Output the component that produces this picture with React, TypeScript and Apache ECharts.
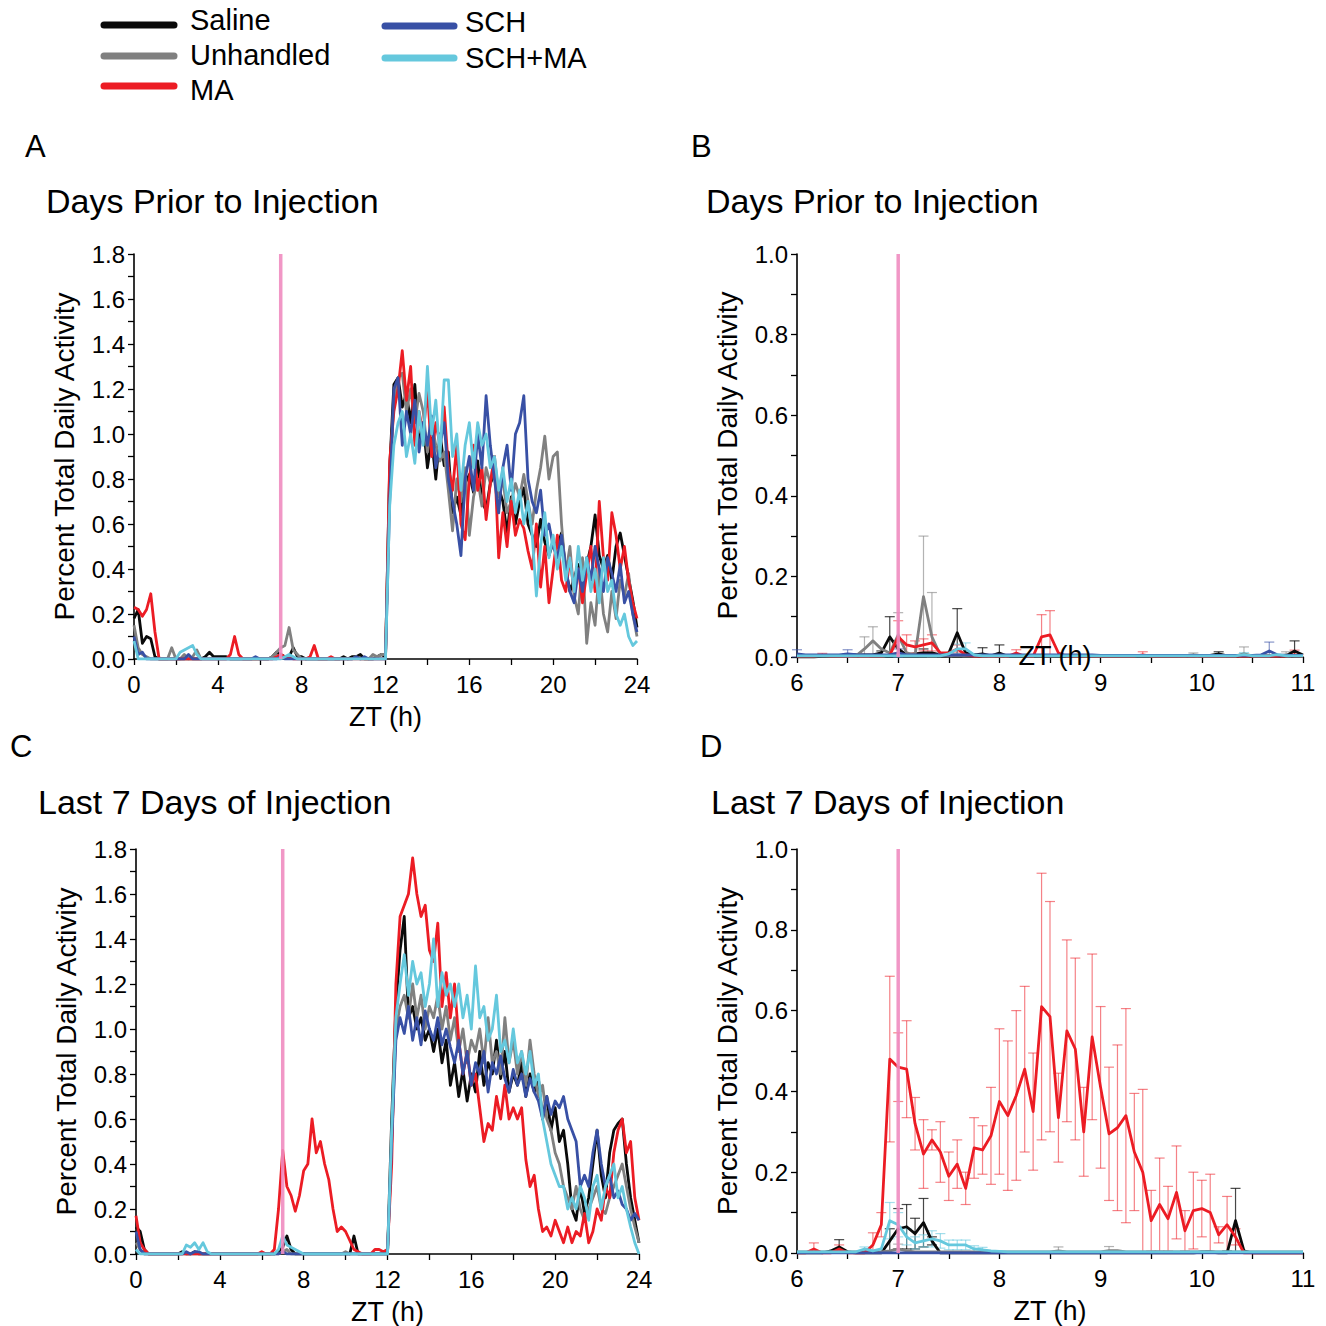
import { useEffect, useRef } from "react";
import * as echarts from "echarts";

// ---------- categories / labels ----------
const groupNames = ["Saline", "Unhandled", "MA", "SCH", "SCH+MA"];
const groupColors = ["#0a0a0a", "#808080", "#ec1c24", "#3850a5", "#65c8dd"];
const errColors = ["rgba(10,10,10,0.75)", "rgba(128,128,128,0.6)", "rgba(236,28,36,0.55)", "rgba(56,80,165,0.6)", "rgba(101,200,221,0.6)"];
const pinkColor = "#f08cc0";
const injectionZT = 7;
const panelTitles = ["Days Prior to Injection", "Days Prior to Injection", "Last 7 Days of Injection", "Last 7 Days of Injection"];
const panelLetters = ["A", "B", "C", "D"];

// time grids (ZT hours): full day in 0.2 h bins, zoom window 6-11 h in 5-min bins
const hoursFull = Array.from({ length: 121 }, (_, i) => Math.round(i * 2) / 10);
const hoursZoom = Array.from({ length: 61 }, (_, k) => 6 + k / 12);

// ---------- Panel A: days prior to injection (ZT 0.0 - 12.0 and 12.2 - 24.0) ----------
const salineA_light = [0.18,0.22,0.07,0.10,0.09,0.01,0,0,0,0, 0,0,0,0,0,0,0,0.01,0.03,0.01, 0.01,0.01,0.01,0,0,0,0,0,0,0, 0,0,0,0.01,0.03,0.02,0.01,0.01,0.05,0.01, 0.01,0,0,0,0,0,0,0,0,0, 0.01,0,0.01,0.01,0.02,0,0,0,0.01,0.02, 0.01];
const unhandledA_light = [0.15,0.05,0.02,0.01,0,0,0,0,0,0.05, 0,0,0.02,0,0.01,0.04,0,0,0,0, 0,0,0,0,0,0,0,0,0,0, 0,0,0,0.01,0.03,0.05,0.06,0.14,0.04,0.02, 0,0,0,0,0,0,0,0,0,0, 0,0,0,0.01,0,0,0,0.02,0.01,0.02, 0.02];
const maA_light = [0.23,0.22,0.19,0.22,0.29,0.12,0,0,0,0, 0,0,0,0,0,0,0,0,0,0, 0,0,0,0.02,0.10,0.02,0,0,0,0, 0,0,0,0,0.01,0.02,0.01,0.01,0,0, 0,0,0.01,0.06,0,0,0,0.01,0,0, 0,0,0,0,0,0,0,0,0,0, 0];
const schA_light = [0.10,0.02,0.03,0,0,0,0,0,0,0, 0,0,0,0.02,0,0,0,0,0,0, 0,0,0,0,0,0,0,0,0,0.01, 0,0,0,0,0,0.01,0,0,0,0, 0,0,0,0,0,0,0,0,0,0, 0,0,0,0.01,0,0.01,0,0,0,0, 0];
const schmaA_light = [0.08,0,0,0,0,0,0,0,0,0, 0,0.03,0.04,0.05,0.06,0.02,0,0,0,0, 0,0,0,0,0,0,0,0,0,0, 0,0,0,0,0,0,0.01,0.02,0.01,0, 0,0,0,0,0,0,0,0,0,0, 0,0,0,0,0,0,0,0,0,0, 0];

const salineA_dark = [0.85,1.22,1.25,1.12,1.18, 1.05,1.22,0.95,1.05,0.85, 0.98,0.8,1.0,0.86,0.92, 0.65,0.72,0.64,0.78,0.82, 0.74,0.88,0.7,0.66,0.78, 0.82,0.76,0.7,0.56,0.72, 0.6,0.7,0.76,0.6,0.55, 0.5,0.62,0.52,0.46,0.52, 0.5,0.56,0.4,0.3,0.36, 0.42,0.3,0.42,0.5,0.64, 0.46,0.4,0.46,0.35,0.5, 0.56,0.46,0.36,0.26,0.14];
const unhandledA_dark = [0.8,1.15,1.25,1.27,1.1, 1.2,1.05,1.18,1.1,0.92, 1.05,0.95,0.88,0.92,0.75, 0.57,0.8,0.7,0.85,0.55, 0.72,0.8,0.68,0.85,0.78, 0.9,0.72,0.8,0.65,0.7, 0.78,0.72,0.82,0.7,0.6, 0.75,0.85,0.99,0.8,0.9, 0.92,0.6,0.38,0.5,0.28, 0.2,0.45,0.07,0.25,0.15, 0.4,0.2,0.12,0.3,0.18, 0.35,0.28,0.38,0.2,0.1];
const maA_dark = [0.88,1.1,1.2,1.37,1.15, 1.3,0.95,1.1,1.0,1.2, 0.9,1.05,0.95,1.12,0.85, 0.75,0.95,0.6,0.53,0.8, 0.95,0.75,0.85,0.62,0.78, 0.9,0.45,0.65,0.5,0.7, 0.55,0.62,0.58,0.48,0.4, 0.6,0.32,0.5,0.25,0.4, 0.55,0.35,0.3,0.45,0.3, 0.4,0.25,0.38,0.5,0.3, 0.7,0.45,0.35,0.65,0.55, 0.4,0.5,0.35,0.25,0.18];
const schA_dark = [0.7,1.2,1.25,0.95,1.1, 1.0,1.15,0.92,1.05,0.95, 1.08,0.85,0.95,1.05,0.8, 0.7,0.6,0.46,0.8,0.9, 0.75,1.0,0.85,1.17,0.95, 0.8,0.65,0.85,0.95,0.75, 1.0,1.05,1.17,0.8,0.7, 0.65,0.75,0.55,0.6,0.5, 0.45,0.55,0.4,0.3,0.25, 0.4,0.3,0.45,0.35,0.5, 0.4,0.3,0.45,0.38,0.3, 0.42,0.25,0.3,0.2,0.12];
const schmaA_dark = [0.68,0.95,1.05,1.1,0.9, 1.0,0.87,1.1,0.95,1.3, 1.0,1.15,0.9,1.24,1.24, 0.9,1.0,0.75,0.95,1.05, 0.85,1.05,0.95,1.0,0.85, 0.9,0.75,0.85,0.7,0.8, 0.65,0.75,0.6,0.7,0.55, 0.28,0.5,0.65,0.45,0.55, 0.4,0.5,0.35,0.45,0.3, 0.5,0.35,0.45,0.3,0.4, 0.25,0.45,0.3,0.35,0.2, 0.15,0.2,0.1,0.06,0.08];

// ---------- Panel C: last 7 days of injection ----------
const salineC_light = [0.12,0.10,0.02,0,0,0,0,0,0,0, 0,0.01,0,0,0.01,0,0,0,0,0, 0,0,0,0,0,0,0,0,0,0, 0,0,0,0,0.01,0.03,0.08,0.02,0,0, 0,0,0,0,0,0,0,0,0,0, 0,0,0.08,0,0,0,0,0,0,0, 0];
const unhandledC_light = [0.05,0.02,0,0,0,0,0,0,0,0, 0,0,0,0,0,0,0,0,0,0, 0,0,0,0,0,0,0,0,0,0, 0,0,0,0,0,0.01,0.02,0,0,0, 0,0,0,0,0,0,0,0,0,0, 0.01,0,0,0,0,0,0,0,0,0, 0];
const maC_light = [0.17,0.05,0.02,0,0,0,0,0,0,0, 0,0,0,0,0,0,0,0,0,0, 0,0,0,0,0,0,0,0,0,0, 0.01,0,0,0.02,0.20,0.46,0.30,0.26,0.19,0.26, 0.37,0.40,0.60,0.45,0.50,0.40,0.33,0.20,0.10,0.12, 0.10,0.06,0.02,0.01,0,0,0,0.02,0.02,0.01, 0.02];
const schC_light = [0.10,0.02,0,0,0,0,0,0,0,0, 0,0,0.01,0,0.01,0.01,0,0,0,0, 0,0,0,0,0,0,0,0,0,0, 0,0,0,0,0,0.01,0,0,0,0, 0,0,0,0,0,0,0,0,0,0, 0,0,0,0,0,0,0,0,0,0, 0];
const schmaC_light = [0.02,0,0,0,0,0,0,0,0,0, 0,0,0.04,0.03,0.05,0.02,0.05,0.01,0,0, 0,0,0,0,0,0,0,0,0,0, 0,0,0,0,0.02,0.08,0.04,0.03,0.02,0.01, 0,0,0,0,0,0,0,0,0,0, 0,0,0,0,0,0,0,0,0,0, 0];

const salineC_dark = [0.6,1.1,1.35,1.5,1.05, 1.1,1.0,1.05,0.95,1.0, 0.9,1.0,0.85,0.95,0.75, 0.85,0.7,0.82,0.68,0.8, 0.72,0.9,0.75,0.85,0.8, 0.95,0.78,0.9,0.72,0.8, 0.75,0.85,0.7,0.8,0.72, 0.78,0.6,0.7,0.55,0.65, 0.5,0.55,0.4,0.2,0.15, 0.3,0.18,0.25,0.4,0.55, 0.35,0.25,0.45,0.55,0.58, 0.6,0.4,0.25,0.15,0.05];
const unhandledC_dark = [0.5,1.0,1.1,1.15,1.05, 1.2,1.05,1.15,1.0,1.1, 1.05,1.15,1.0,1.1,0.95, 1.05,0.9,1.0,0.85,0.95, 0.9,1.0,0.85,1.05,0.85, 0.9,0.8,1.05,0.85,0.95, 0.8,0.9,0.75,0.95,0.8, 0.7,0.75,0.6,0.55,0.45, 0.4,0.3,0.25,0.2,0.3, 0.2,0.15,0.2,0.25,0.3, 0.2,0.18,0.25,0.3,0.35, 0.4,0.3,0.2,0.12,0.05];
const maC_dark = [0.4,1.2,1.5,1.55,1.6, 1.76,1.6,1.5,1.55,1.35, 1.3,1.47,1.1,1.25,1.05, 1.2,0.95,0.8,0.9,0.75, 0.8,0.65,0.5,0.58,0.55, 0.7,0.6,0.75,0.6,0.65, 0.6,0.65,0.42,0.3,0.35, 0.2,0.1,0.12,0.08,0.15, 0.1,0.05,0.12,0.05,0.1, 0.08,0.18,0.05,0.1,0.2, 0.15,0.3,0.25,0.45,0.55, 0.6,0.45,0.5,0.25,0.15];
const schC_dark = [0.5,0.95,1.05,0.98,1.1, 0.95,1.05,0.93,1.08,1.0, 0.95,1.05,0.93,1.0,0.92, 0.85,0.95,0.8,0.9,0.75, 0.85,0.8,0.9,0.72,0.85, 0.8,0.88,0.78,0.72,0.82, 0.75,0.8,0.7,0.78,0.72, 0.68,0.6,0.7,0.62,0.68, 0.65,0.7,0.6,0.55,0.5, 0.3,0.35,0.3,0.45,0.55, 0.4,0.3,0.35,0.25,0.28, 0.22,0.2,0.15,0.18,0.15];
const schmaC_dark = [0.55,1.05,1.2,1.33,1.15, 1.3,1.2,1.25,1.1,1.2, 1.4,1.1,1.25,1.15,1.2, 1.1,1.2,1.05,1.15,1.0, 1.28,1.05,1.1,0.95,1.0, 1.15,0.9,0.95,0.85,1.0, 0.85,0.9,0.8,0.9,0.75, 0.8,0.6,0.5,0.4,0.35, 0.3,0.3,0.2,0.25,0.2, 0.3,0.25,0.15,0.3,0.35, 0.2,0.3,0.35,0.4,0.25, 0.3,0.2,0.12,0.05,0.0];

// ---------- Panel B: ZT 6-11, days prior (mean, SEM) ----------
const salineB = [0,0,0,0.002,0.002,0.003,0.005,0.005,0.005,0.005, 0.01,0.05,0.02,0.005,0.008,0.01,0.01,0.005,0.01,0.06, 0.01,0.005,0.008,0.003,0.01,0.002,0.002,0.002,0.002,0.002, 0.002,0.003,0.002,0.002,0.002,0.002,0.002,0.002,0.002,0.002, 0.002,0.002,0.002,0.002,0.002,0.002,0.003,0.003,0.004,0.004, 0.008,0.003,0.003,0.003,0.003,0.003,0.003,0.003,0.003,0.015, 0.005];
const salineB_sem = [0,0,0,0,0,0,0,0,0,0, 0.005,0.05,0.02,0,0,0.01,0,0,0,0.06, 0,0,0.015,0,0.02,0,0,0,0,0, 0,0,0,0,0,0,0,0,0,0, 0,0,0,0,0,0,0,0,0,0, 0.005,0,0,0,0,0,0,0,0,0.025, 0];
const unhandledB = [0.003,0.003,0.003,0.003,0.003,0.003,0.003,0.003,0.02,0.04, 0.02,0.01,0.055,0.01,0.005,0.15,0.05,0.005,0.003,0.003, 0.003,0.003,0.003,0.003,0.003,0.003,0.003,0.003,0.003,0.003, 0.003,0.003,0.003,0.003,0.003,0.003,0.003,0.003,0.003,0.003, 0.003,0.003,0.003,0.003,0.003,0.003,0.003,0.005,0.003,0.003, 0.003,0.003,0.003,0.008,0.003,0.003,0.003,0.003,0.005,0.003, 0.003];
const unhandledB_sem = [0,0,0,0,0,0,0,0,0.03,0.035, 0,0,0.055,0,0,0.15,0.11,0,0,0, 0,0,0,0,0,0,0,0,0,0, 0,0,0,0,0,0,0,0,0,0, 0,0,0,0,0,0,0,0.005,0,0, 0,0,0,0.017,0,0,0,0,0.008,0, 0];
const maB = [0.002,0.002,0.002,0.004,0.002,0.002,0.002,0.002,0.002,0.002, 0.002,0.004,0.05,0.03,0.025,0.03,0.035,0.01,0.01,0.02, 0.005,0.002,0.002,0.002,0.002,0.002,0.01,0.002,0.002,0.05, 0.055,0.01,0.002,0.002,0.002,0.002,0.002,0.002,0.002,0.002, 0.002,0.005,0.002,0.002,0.002,0.002,0.002,0.002,0.002,0.002, 0.002,0.002,0.002,0.002,0.002,0.002,0.002,0.002,0.002,0.005, 0.002];
const maB_sem = [0,0,0,0.005,0,0,0,0,0,0, 0,0,0.04,0.025,0.015,0.015,0.02,0,0,0.01, 0,0,0,0,0,0,0.008,0,0,0.055, 0.06,0,0,0,0,0,0,0,0,0, 0,0.008,0,0,0,0,0,0,0,0, 0,0,0,0,0,0,0,0,0,0.012, 0];
const schB = [0.008,0.005,0.005,0.005,0.005,0.005,0.008,0.006,0.005,0.005, 0.005,0.005,0.01,0.005,0.005,0.005,0.005,0.005,0.005,0.005, 0.005,0.005,0.005,0.005,0.005,0.005,0.005,0.005,0.005,0.005, 0.005,0.005,0.005,0.005,0.005,0.005,0.004,0.004,0.004,0.004, 0.004,0.004,0.004,0.004,0.004,0.004,0.004,0.004,0.004,0.004, 0.004,0.004,0.004,0.004,0.004,0.005,0.015,0.005,0.004,0.004, 0.004];
const schB_sem = [0.01,0,0,0,0,0,0.01,0,0,0, 0,0,0.01,0,0,0,0,0,0,0, 0,0,0,0,0,0,0,0,0,0, 0,0,0,0,0,0,0,0,0,0, 0,0,0,0,0,0,0,0,0,0, 0,0,0,0,0,0,0.022,0,0,0, 0];
const schmaB = [0.003,0.003,0.003,0.003,0.003,0.003,0.003,0.003,0.003,0.003, 0.003,0.003,0.003,0.003,0.003,0.003,0.003,0.003,0.008,0.02, 0.02,0.005,0.003,0.003,0.003,0.003,0.003,0.003,0.003,0.003, 0.003,0.003,0.003,0.003,0.003,0.003,0.003,0.003,0.003,0.003, 0.003,0.003,0.003,0.003,0.003,0.003,0.003,0.003,0.003,0.003, 0.003,0.003,0.003,0.006,0.003,0.003,0.003,0.006,0.003,0.003, 0.003];
const schmaB_sem = [0,0,0,0,0,0,0,0,0,0, 0,0,0,0,0,0,0,0,0,0.012, 0.015,0,0,0,0,0,0,0,0,0, 0,0,0,0,0,0,0,0,0,0, 0,0,0,0,0,0,0,0,0,0, 0,0,0,0.005,0,0,0,0,0,0, 0];

// ---------- Panel D: ZT 6-11, last 7 days of injection (mean, SEM) ----------
const salineD = [0,0,0,0,0.005,0.015,0.003,0,0,0, 0,0.03,0.06,0.065,0.048,0.075,0.03,0,0,0, 0,0,0,0,0,0,0,0,0,0, 0,0,0,0,0,0,0,0,0,0, 0,0,0,0,0,0,0,0,0.003,0.003, 0,0,0.08,0.005,0,0,0,0,0,0, 0];
const salineD_sem = [0,0,0,0,0,0.018,0,0,0,0, 0,0.03,0.05,0.055,0.038,0.06,0.01,0,0,0, 0,0,0,0,0,0,0,0,0,0, 0,0,0,0,0,0,0,0,0,0, 0,0,0,0,0,0,0,0,0,0, 0,0.005,0.08,0,0,0,0,0,0,0, 0];
const unhandledD = [0.003,0.003,0.003,0.003,0.003,0.003,0.003,0.003,0.003,0.003, 0.003,0.005,0.01,0.005,0.003,0.003,0.003,0.003,0.003,0.003, 0.003,0.003,0.003,0.003,0.003,0.003,0.003,0.003,0.003,0.003, 0.003,0.005,0.003,0.003,0.003,0.003,0.003,0.006,0.006,0.003, 0.003,0.003,0.003,0.003,0.003,0.003,0.003,0.003,0.003,0.003, 0.003,0.003,0.003,0.003,0.003,0.003,0.003,0.003,0.003,0.003, 0.003];
const unhandledD_sem = [0,0,0,0,0,0,0,0,0,0, 0,0,0.012,0,0,0,0,0,0,0, 0,0,0,0,0,0,0,0,0,0, 0,0.01,0,0,0,0,0,0.01,0,0, 0,0,0,0,0,0,0,0,0,0, 0,0,0,0,0,0,0,0,0,0, 0];
const maD = [0,0,0.01,0,0,0.01,0,0,0,0.02, 0.07,0.48,0.46,0.455,0.32,0.245,0.28,0.25,0.19,0.22, 0.16,0.26,0.255,0.29,0.375,0.34,0.39,0.455,0.35,0.61, 0.585,0.335,0.55,0.505,0.3,0.535,0.41,0.295,0.31,0.34, 0.25,0.2,0.08,0.12,0.085,0.15,0.055,0.105,0.11,0.1, 0.045,0.07,0.04,0,0,0,0,0,0,0, 0];
const maD_sem = [0,0,0.015,0,0,0.01,0,0,0,0.03, 0.03,0.205,0.085,0.12,0.065,0.085,0.025,0.075,0.06,0.06, 0.04,0.075,0.06,0.12,0.18,0.185,0.21,0.205,0.145,0.33, 0.285,0.11,0.225,0.225,0.11,0.205,0.2,0.165,0.205,0.265, 0.145,0.205,0.075,0.115,0.08,0.115,0.05,0.095,0.07,0.095, 0.02,0.07,0.02,0,0,0,0,0,0,0, 0];
const schD = [0,0,0,0,0,0,0,0,0,0, 0,0,0,0,0,0,0,0,0,0, 0,0,0,0,0,0,0,0,0,0, 0,0,0,0,0,0,0,0,0,0, 0,0,0,0,0,0,0,0,0,0, 0,0,0,0,0,0,0,0,0,0, 0];
const schD_sem = [0,0,0,0,0,0,0,0,0,0, 0,0,0,0,0,0,0,0,0,0, 0,0,0,0,0,0,0,0,0,0, 0,0,0,0,0,0,0,0,0,0, 0,0,0,0,0,0,0,0,0,0, 0,0,0,0,0,0,0,0,0,0, 0];
const schmaD = [0.003,0.003,0.003,0.003,0.003,0.003,0.003,0.003,0.01,0.005, 0.01,0.08,0.07,0.04,0.025,0.03,0.035,0.03,0.02,0.02, 0.02,0.01,0.008,0.005,0.004,0.003,0.003,0.003,0.003,0.003, 0.003,0.003,0.003,0.003,0.003,0.003,0.003,0.003,0.003,0.003, 0.003,0.003,0.003,0.003,0.003,0.003,0.003,0.003,0.003,0.003, 0.003,0.003,0.003,0.003,0.003,0.003,0.003,0.003,0.003,0.003, 0.003];
const schmaD_sem = [0,0,0,0,0,0,0,0,0.005,0, 0,0.045,0.03,0.02,0.015,0.015,0.02,0.018,0.012,0.012, 0.012,0.008,0.006,0,0,0,0,0,0,0, 0,0,0,0,0,0,0,0,0,0, 0,0,0,0,0,0,0,0,0,0, 0,0,0,0,0,0,0,0,0,0, 0];

// ---------- assemble tables ----------
const panelA = [
  [...salineA_light, ...salineA_dark],
  [...unhandledA_light, ...unhandledA_dark],
  [...maA_light, ...maA_dark],
  [...schA_light, ...schA_dark],
  [...schmaA_light, ...schmaA_dark],
];
const panelC = [
  [...salineC_light, ...salineC_dark],
  [...unhandledC_light, ...unhandledC_dark],
  [...maC_light, ...maC_dark],
  [...schC_light, ...schC_dark],
  [...schmaC_light, ...schmaC_dark],
];
const panelB = [salineB, unhandledB, maB, schB, schmaB];
const panelB_sem = [salineB_sem, unhandledB_sem, maB_sem, schB_sem, schmaB_sem];
const panelD = [salineD, unhandledD, maD, schD, schmaD];
const panelD_sem = [salineD_sem, unhandledD_sem, maD_sem, schD_sem, schmaD_sem];

const FONT = '"Liberation Sans", Arial, Helvetica, sans-serif';

function lineSeries(idx: number, xs: number[], ys: number[], color: string, width: number) {
  return {
    type: "line",
    xAxisIndex: idx,
    yAxisIndex: idx,
    data: xs.map((x, i) => [x, ys[i]]),
    symbol: "none",
    showSymbol: false,
    silent: true,
    lineStyle: { color, width, join: "round" },
    itemStyle: { color },
    z: 3,
  };
}

function errorSeries(idx: number, xs: number[], ys: number[], sems: number[], color: string) {
  return {
    type: "custom",
    xAxisIndex: idx,
    yAxisIndex: idx,
    silent: true,
    z: 2,
    data: xs.map((x, i) => [x, ys[i], sems[i]]),
    encode: { x: 0, y: 1 },
    renderItem: (_params: any, api: any) => {
      const x = api.value(0);
      const y = api.value(1);
      const s = api.value(2);
      if (!(s > 0.0035)) return null;
      const top = api.coord([x, y + s]);
      const bot = api.coord([x, Math.max(0, y - s)]);
      const hw = 5;
      const style = { stroke: color, lineWidth: 1.2, fill: null };
      return {
        type: "group",
        children: [
          { type: "line", shape: { x1: top[0], y1: top[1], x2: bot[0], y2: bot[1] }, style },
          { type: "line", shape: { x1: top[0] - hw, y1: top[1], x2: top[0] + hw, y2: top[1] }, style },
          { type: "line", shape: { x1: bot[0] - hw, y1: bot[1], x2: bot[0] + hw, y2: bot[1] }, style },
        ],
      };
    },
  };
}

function pinkSeries(idx: number, ymax: number) {
  return {
    type: "line",
    xAxisIndex: idx,
    yAxisIndex: idx,
    data: [[injectionZT, 0], [injectionZT, ymax]],
    symbol: "none",
    silent: true,
    lineStyle: { color: pinkColor, width: 3.5, opacity: 0.9 },
    z: 10,
  };
}

const axisLineStyle = { color: "#000", width: 1.6 };

function xAxisCfg(idx: number, min: number, max: number, interval: number, withName: boolean) {
  return {
    type: "value",
    gridIndex: idx,
    min,
    max,
    interval,
    name: withName ? "ZT (h)" : "",
    nameLocation: "middle",
    nameGap: 44,
    nameTextStyle: { fontSize: 27, fontFamily: FONT, color: "#000" },
    axisLine: { show: true, onZero: false, lineStyle: axisLineStyle },
    axisTick: { show: true, inside: false, length: 6, lineStyle: { color: "#000", width: 1.3 } },
    minorTick: { show: true, splitNumber: 2, length: 6, lineStyle: { color: "#000", width: 1.3 } },
    axisLabel: { fontSize: 24, fontFamily: FONT, color: "#000", margin: 13 },
    splitLine: { show: false },
    minorSplitLine: { show: false },
  };
}

function yAxisCfg(idx: number, max: number) {
  return {
    type: "value",
    gridIndex: idx,
    min: 0,
    max,
    interval: 0.2,
    name: "Percent Total Daily Activity",
    nameLocation: "middle",
    nameRotate: 90,
    nameGap: 56,
    nameTextStyle: { fontSize: 28, fontFamily: FONT, color: "#000" },
    axisLine: { show: true, onZero: false, lineStyle: axisLineStyle },
    axisTick: { show: true, inside: false, length: 6, lineStyle: { color: "#000", width: 1.3 } },
    minorTick: { show: true, splitNumber: 2, length: 6, lineStyle: { color: "#000", width: 1.3 } },
    axisLabel: { fontSize: 24, fontFamily: FONT, color: "#000", margin: 9, formatter: (v: number) => v.toFixed(1) },
    splitLine: { show: false },
    minorSplitLine: { show: false },
  };
}

function buildOption() {
  const series: any[] = [];
  // panel A (0) and C (2)
  [[0, panelA], [2, panelC]].forEach(([idx, table]: any) => {
    table.forEach((ys: number[], g: number) => series.push(lineSeries(idx, hoursFull, ys, groupColors[g], 2.8)));
    series.push(pinkSeries(idx, 1.8));
  });
  // panel B (1) and D (3)
  [[1, panelB, panelB_sem], [3, panelD, panelD_sem]].forEach(([idx, table, sems]: any) => {
    table.forEach((ys: number[], g: number) => {
      series.push(errorSeries(idx, hoursZoom, ys, sems[g], errColors[g]));
      series.push(lineSeries(idx, hoursZoom, ys, groupColors[g], 2.8));
    });
    series.push(pinkSeries(idx, 1.0));
  });

  const graphics: any[] = [];
  // legend
  const legendPos = [
    { x1: 104, x2: 174, y: 25, tx: 190, ty: 20 },
    { x1: 104, x2: 174, y: 56, tx: 190, ty: 55 },
    { x1: 104, x2: 174, y: 86, tx: 190, ty: 90 },
    { x1: 385, x2: 454, y: 26, tx: 465, ty: 22 },
    { x1: 385, x2: 454, y: 58, tx: 465, ty: 58 },
  ];
  groupNames.forEach((name, g) => {
    const p = legendPos[g];
    graphics.push({
      type: "line",
      shape: { x1: p.x1, y1: p.y, x2: p.x2, y2: p.y },
      style: { stroke: groupColors[g], lineWidth: 7, lineCap: "round" },
    });
    graphics.push({
      type: "text",
      x: p.tx,
      y: p.ty,
      style: { text: name, fontSize: 29, fontFamily: FONT, fill: "#000", verticalAlign: "middle", align: "left" },
    });
  });
  // panel letters and titles
  const letterPos = [[25, 146], [691, 146], [10, 746], [700, 746]];
  const titlePos = [[46, 201], [706, 201], [38, 802], [711, 802]];
  panelLetters.forEach((l, i) => {
    graphics.push({
      type: "text",
      x: letterPos[i][0],
      y: letterPos[i][1],
      style: { text: l, fontSize: 31, fontFamily: FONT, fill: "#000", verticalAlign: "middle", align: "left" },
    });
    graphics.push({
      type: "text",
      x: titlePos[i][0],
      y: titlePos[i][1],
      style: { text: panelTitles[i], fontSize: 34, fontFamily: FONT, fill: "#000", verticalAlign: "middle", align: "left" },
    });
  });
  // panel B's axis title sits inside the plot in the original figure
  graphics.push({
    type: "text",
    x: 1055,
    y: 656,
    z: 20,
    style: { text: "ZT (h)", fontSize: 27, fontFamily: FONT, fill: "#000", verticalAlign: "middle", align: "center" },
  });

  return {
    animation: false,
    backgroundColor: "#fff",
    grid: [
      { left: 134, top: 254, width: 503, height: 405 },
      { left: 797, top: 254, width: 506, height: 403 },
      { left: 136, top: 849, width: 503, height: 405 },
      { left: 797, top: 849, width: 506, height: 404 },
    ],
    xAxis: [
      xAxisCfg(0, 0, 24, 4, true),
      xAxisCfg(1, 6, 11, 1, false),
      xAxisCfg(2, 0, 24, 4, true),
      xAxisCfg(3, 6, 11, 1, true),
    ],
    yAxis: [yAxisCfg(0, 1.8), yAxisCfg(1, 1.0), yAxisCfg(2, 1.8), yAxisCfg(3, 1.0)],
    series,
    graphic: graphics,
  };
}

export default function App() {
  const ref = useRef<HTMLDivElement>(null);
  useEffect(() => {
    if (!ref.current) return;
    const chart = echarts.init(ref.current, null, { renderer: "svg" });
    chart.setOption(buildOption() as any);
    return () => chart.dispose();
  }, []);
  return (
    <div
      ref={ref}
      style={{ position: "absolute", left: 0, top: 0, width: 1326, height: 1326, background: "#fff" }}
    />
  );
}
